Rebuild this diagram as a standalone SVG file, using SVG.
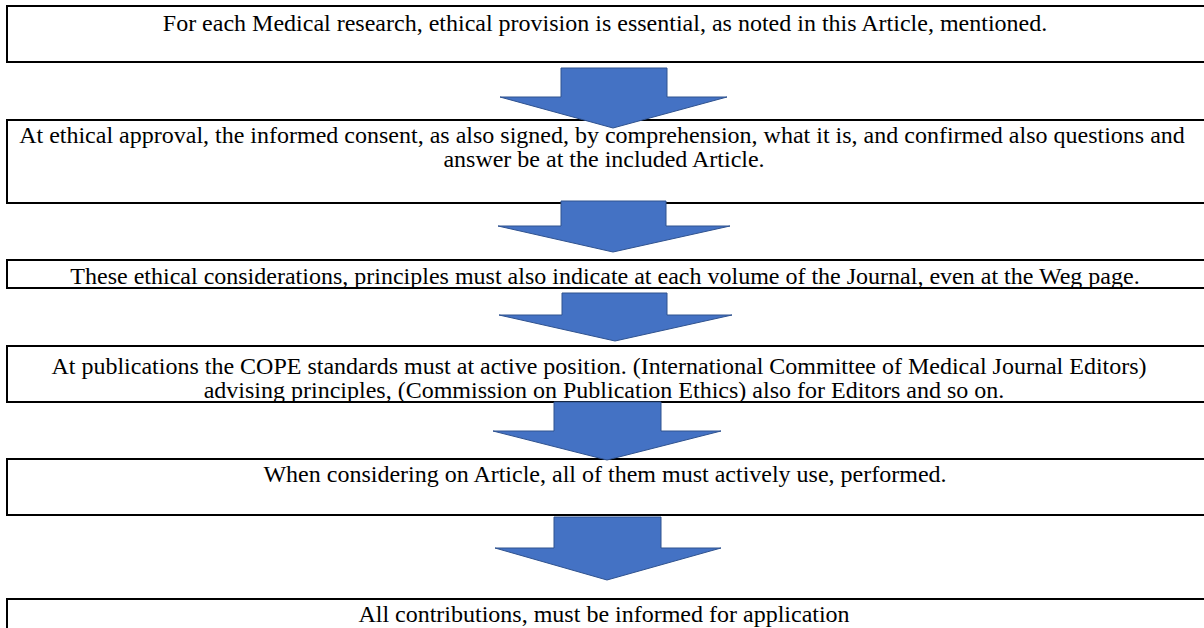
<svg xmlns="http://www.w3.org/2000/svg" width="1204" height="628" viewBox="0 0 1204 628">
<style>
.box{fill:#fff;stroke:#000;stroke-width:2}
.t{font-family:"Liberation Serif","Times New Roman",serif;font-size:24px;fill:#000;text-anchor:middle}
.arr{fill:#4472C4;stroke:#2F528F;stroke-width:1;stroke-linejoin:miter}
</style>
<rect width="1204" height="628" fill="#fff"/>
<g id="node1"><rect class="box" x="7" y="6" width="1200" height="56"/><text class="t" x="605" y="31">For each Medical research, ethical provision is essential, as noted in this Article, mentioned.</text></g>
<g id="node2"><rect class="box" x="7" y="120" width="1200" height="83"/><text class="t" x="602" y="143">At ethical approval, the informed consent, as also signed, by comprehension, what it is, and confirmed also questions and</text><text class="t" x="604" y="167">answer be at the included Article.</text></g>
<g id="node3"><rect class="box" x="7" y="260" width="1200" height="28"/><text class="t" x="605" y="284">These ethical considerations, principles must also indicate at each volume of the Journal, even at the Weg page.</text></g>
<g id="node4"><rect class="box" x="7" y="346" width="1200" height="56"/><text class="t" x="599" y="374">At publications the COPE standards must at active position. (International Committee of Medical Journal Editors)</text><text class="t" x="604" y="398">advising principles, (Commission on Publication Ethics) also for Editors and so on.</text></g>
<g id="node5"><rect class="box" x="7" y="459" width="1200" height="56"/><text class="t" x="605" y="482">When considering on Article, all of them must actively use, performed.</text></g>
<g id="node6"><rect class="box" x="7" y="599" width="1200" height="56"/><text class="t" x="604" y="622">All contributions, must be informed for application</text></g>
<g id="connectors">
<polygon class="arr" points="561,68 667,68 667,97 727,97 613,128 500,97 561,97"/>
<polygon class="arr" points="561,201 666,201 666,226 730,226 613,252 498,226 561,226"/>
<polygon class="arr" points="562,293 667,293 667,315 732,315 615,341 499,315 562,315"/>
<polygon class="arr" points="554,402 661,402 661,431 721,431 607,460 493,431 554,431"/>
<polygon class="arr" points="554,517 661,517 661,548 721,548 607,580 495,548 554,548"/>
</g>
</svg>
